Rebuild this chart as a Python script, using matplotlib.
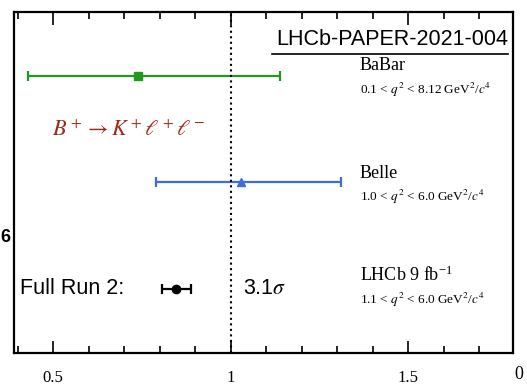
import numpy as np
import matplotlib.pyplot as plt
from matplotlib.ticker import MultipleLocator

# R_K measurements: central value and asymmetric errors
experiments = ['LHCb', 'Belle', 'BaBar']
rk_values = [0.846, 1.03, 0.74]
err_low = [0.040, 0.24, 0.31]
err_high = [0.042, 0.28, 0.40]
rows = [1, 2, 3]
colors = ['black', '#3d6be6', '#1f9a1f']
markers = ['o', '^', 's']

names = ['LHCb 9 fb$^{\\mathregular{-1}}$', 'Belle', 'BaBar']
q2_ranges = ['1.1 < $q^2$ < 6.0 GeV$^2$/$c^4$',
             '1.0 < $q^2$ < 6.0 GeV$^2$/$c^4$',
             '0.1 < $q^2$ < 8.12 GeV$^2$/$c^4$']

plt.rcParams['mathtext.fontset'] = 'stix'

fig = plt.figure(figsize=(5.27, 3.9), dpi=100)
ax = fig.add_axes([0.0266, 0.0949, 0.9468, 0.8744])

for r, v, lo, hi, c, m in zip(rows, rk_values, err_low, err_high, colors, markers):
    ax.errorbar(v, r, xerr=[[lo], [hi]], fmt=m, color=c, ms=6, lw=1.6,
                capsize=3.5, capthick=1.6)

ax.axvline(1.0, color='black', ls=':', lw=1.5)

ax.set_xlim(0.39, 1.795)
ax.set_ylim(0.4, 3.6)
ax.set_yticks([])
ax.xaxis.set_major_locator(MultipleLocator(0.5))
ax.xaxis.set_minor_locator(MultipleLocator(0.1))
ax.tick_params(axis='x', which='both', direction='in', top=True, width=1.2)
ax.tick_params(axis='x', which='major', length=9)
ax.tick_params(axis='x', which='minor', length=5)
ax.set_xticklabels([])
for t in [0.5, 1.0, 1.5]:
    ax.text(t, -0.05, f'{t:g}', transform=ax.get_xaxis_transform(),
            ha='center', va='top', fontsize=12, family='Liberation Serif')
for sp in ax.spines.values():
    sp.set_linewidth(1.6)

serif = 'Liberation Serif'
sans = 'Liberation Sans'
label_y = [0.229, 0.525, 0.842]
range_y = [0.155, 0.457, 0.771]
for n, q, ly, qy in zip(names, q2_ranges, label_y, range_y):
    ax.text(0.693, ly, n, transform=ax.transAxes, fontsize=13,
            family=serif, va='center', ha='left')
    ax.text(0.693, qy, q, transform=ax.transAxes, fontsize=9.5,
            family=serif, va='center', ha='left')

ax.text(0.99, 0.918, 'LHCb-PAPER-2021-004', transform=ax.transAxes,
        fontsize=15.5, family=sans, ha='right', va='center')
ax.plot([0.518, 0.99], [0.877, 0.877], transform=ax.transAxes,
        color='black', lw=1.2, clip_on=False)

ax.text(0.012, 0.188, 'Full Run 2:', transform=ax.transAxes, fontsize=15.5,
        family=sans, ha='left', va='center')
ax.text(0.459, 0.188, '3.1$\\sigma$', transform=ax.transAxes, fontsize=15.5,
        family=sans, ha='left', va='center')

ax.text(0.076, 0.654, '$B^+ \\rightarrow K^+\\ell^+\\ell^-$', transform=ax.transAxes,
        fontsize=16, color='#9a2a18', ha='left', va='center')

# fragments of neighbouring text at the figure border
fig.text(0.0, 0.39, '6', fontsize=13, family=sans, weight='bold',
         ha='left', va='center')
fig.text(0.985, 0.04, '0', fontsize=13, family=serif, ha='center', va='center')

fig.savefig('out.png', dpi=100)
